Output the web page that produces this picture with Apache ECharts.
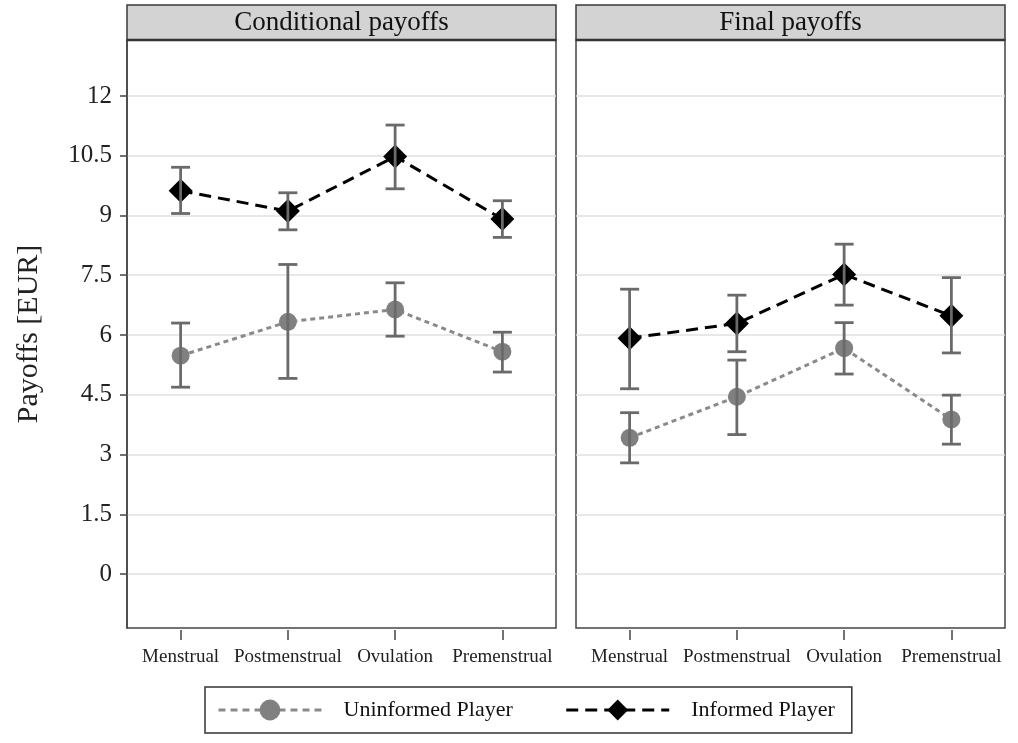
<!DOCTYPE html>
<html>
<head>
<meta charset="utf-8">
<script src="https://cdn.jsdelivr.net/npm/echarts@6/dist/echarts.min.js"></script>
<style>html,body{margin:0;padding:0;background:#fff;}#chart{width:1018px;height:743px;}</style>
</head>
<body>
<div id="chart"></div>
<script>
const categories = ['Menstrual', 'Postmenstrual', 'Ovulation', 'Premenstrual'];
const yTicks = [0, 1.5, 3, 4.5, 6, 7.5, 9, 10.5, 12];
const panelTitles = ['Conditional payoffs', 'Final payoffs'];
const seriesNames = ['Uninformed Player', 'Informed Player'];

const condInformed = [9.62, 9.11, 10.48, 8.91];
const condInformedLow = [9.05, 8.64, 9.67, 8.45];
const condInformedHigh = [10.21, 9.57, 11.27, 9.37];
const condUninformed = [5.48, 6.33, 6.64, 5.58];
const condUninformedLow = [4.69, 4.91, 5.97, 5.07];
const condUninformedHigh = [6.30, 7.77, 7.31, 6.07];

const finalInformed = [5.92, 6.29, 7.52, 6.48];
const finalInformedLow = [4.65, 5.58, 6.75, 5.55];
const finalInformedHigh = [7.15, 7.00, 8.28, 7.44];
const finalUninformed = [3.42, 4.45, 5.67, 3.88];
const finalUninformedLow = [2.79, 3.50, 5.02, 3.26];
const finalUninformedHigh = [4.05, 5.37, 6.31, 4.49];

const FONT = "'Liberation Serif', 'Times New Roman', serif";
const chart = echarts.init(document.getElementById('chart'));

const grids = [
  {left: 127, width: 429, top: 40, height: 588},
  {left: 576, width: 429, top: 40, height: 588}
];

const uninfLine = {color: '#8a8a8a', width: 3, type: [5, 4]};
const infLine = {color: '#000', width: 3, type: [12, 7]};

function xAxisDef(i) {
  return {
    type: 'category', gridIndex: i, data: categories, boundaryGap: true,
    position: 'bottom', offset: 2,
    axisLine: {show: false, onZero: false},
    axisTick: {show: true, alignWithLabel: true, length: 10, lineStyle: {color: '#444', width: 1.5}},
    axisLabel: {interval: 0, margin: 18, fontFamily: FONT, fontSize: 19, color: '#222'},
    splitLine: {show: false}
  };
}
function yAxisDef(i) {
  return {
    type: 'value', gridIndex: i, min: -1.355, max: 13.405,
    name: i === 0 ? 'Payoffs [EUR]' : '',
    nameLocation: 'middle', nameGap: 83,
    nameTextStyle: {fontFamily: FONT, fontSize: 30, color: '#222'},
    axisLine: {show: i === 0, onZero: false, lineStyle: {color: '#444', width: 1.5}},
    axisTick: {show: i === 0, customValues: yTicks, length: 7, lineStyle: {color: '#444', width: 1.5}},
    axisLabel: {show: i === 0, customValues: yTicks, margin: 15, fontFamily: FONT, fontSize: 25, color: '#222',
      formatter: v => String(v)},
    splitLine: {show: true, lineStyle: {color: '#e0e0e0', width: 1.5}}
  };
}

function errSeries(i, low, high) {
  return {
    type: 'custom', xAxisIndex: i, yAxisIndex: i, z: 5,
    data: categories.map((c, k) => [k, low[k], high[k]]),
    renderItem: function (params, api) {
      const x = api.value(0);
      const lo = api.coord([x, api.value(1)]);
      const hi = api.coord([x, api.value(2)]);
      const hw = 9.5;
      const st = {stroke: '#6a6a6a', lineWidth: 2.8};
      return {
        type: 'group',
        children: [
          {type: 'line', shape: {x1: lo[0], y1: lo[1], x2: hi[0], y2: hi[1]}, style: st},
          {type: 'line', shape: {x1: lo[0] - hw, y1: lo[1], x2: lo[0] + hw, y2: lo[1]}, style: st},
          {type: 'line', shape: {x1: hi[0] - hw, y1: hi[1], x2: hi[0] + hw, y2: hi[1]}, style: st}
        ]
      };
    }
  };
}
function uninfSeries(i, data) {
  return {
    name: seriesNames[0], type: 'line', xAxisIndex: i, yAxisIndex: i, data: data, z: 3,
    symbol: 'circle', symbolSize: 18,
    itemStyle: {color: '#808080'},
    lineStyle: uninfLine,
    emphasis: {disabled: true}
  };
}
function infSeries(i, data) {
  return {
    name: seriesNames[1], type: 'line', xAxisIndex: i, yAxisIndex: i, data: data, z: 4,
    symbol: 'diamond', symbolSize: [24, 24],
    itemStyle: {color: '#000'},
    lineStyle: infLine,
    emphasis: {disabled: true}
  };
}

const graphics = [];
grids.forEach((g, i) => {
  graphics.push({
    type: 'rect', z: 10,
    shape: {x: g.left, y: 5, width: g.width, height: 35},
    style: {fill: '#d3d3d3', stroke: '#3a3a3a', lineWidth: 1.5}
  });
  graphics.push({
    type: 'line', z: 11,
    shape: {x1: g.left, y1: 40, x2: g.left + g.width, y2: 40},
    style: {stroke: '#333', lineWidth: 2.5}
  });
  graphics.push({
    type: 'text', z: 12, x: g.left + g.width / 2, y: 23,
    style: {text: panelTitles[i], font: '27px ' + FONT, fill: '#111', align: 'center', verticalAlign: 'middle'}
  });
});

chart.setOption({
  animation: false,
  backgroundColor: '#fff',
  grid: grids.map(g => Object.assign({show: true, borderColor: '#444', borderWidth: 1.5, backgroundColor: '#fff'}, g)),
  xAxis: [xAxisDef(0), xAxisDef(1)],
  yAxis: [yAxisDef(0), yAxisDef(1)],
  legend: {
    data: [
      {name: seriesNames[0], lineStyle: {color: '#8a8a8a', width: 3, type: [7, 5]}},
      {name: seriesNames[1], lineStyle: {color: '#000', width: 3, type: [12, 7]}}
    ],
    lineStyle: {width: 3},
    left: 205, top: 687,
    padding: [12, 17, 12, 12],
    itemWidth: 103, itemHeight: 26, itemGap: 52,
    borderColor: '#333', borderWidth: 1.5,
    textStyle: {fontFamily: FONT, fontSize: 22, color: '#111', padding: [0, 0, 0, 17]},
    selectedMode: false
  },
  graphic: graphics,
  series: [
    uninfSeries(0, condUninformed), infSeries(0, condInformed),
    errSeries(0, condUninformedLow, condUninformedHigh), errSeries(0, condInformedLow, condInformedHigh),
    uninfSeries(1, finalUninformed), infSeries(1, finalInformed),
    errSeries(1, finalUninformedLow, finalUninformedHigh), errSeries(1, finalInformedLow, finalInformedHigh)
  ]
});
</script>
</body>
</html>
